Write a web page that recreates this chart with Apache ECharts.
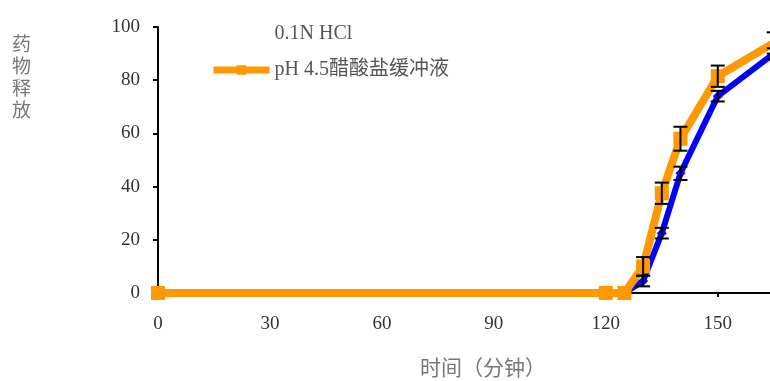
<!DOCTYPE html>
<html><head><meta charset="utf-8">
<script src="https://cdn.jsdelivr.net/npm/echarts@6/dist/echarts.min.js"></script>
<style>html,body{margin:0;padding:0;background:#fff}#c{width:770px;height:381px}</style>
</head><body><div id="c"></div>
<script>
const times = [0, 120, 125, 130, 135, 140, 150, 165];
const hcl = [0, 0, 0, 4.5, 22.5, 45, 74, 90];
const hclErr = [0, 0, 0, 2, 2, 2.5, 2, 2];
const acetate = [0, 0, 0, 10, 37.5, 58, 81.5, 94];
const acetateErr = [0, 0, 0, 3.5, 4, 4.5, 4, 4];
const seriesNames = ['0.1N HCl', 'pH 4.5醋酸盐缓冲液'];
const xTicks = [0, 30, 60, 90, 120, 150];
const yTicks = [0, 20, 40, 60, 80, 100];

const FONT = '"Liberation Serif", "Noto Sans CJK SC", serif';
const pairs = (ys) => times.map((t, i) => [t, ys[i]]);
const errData = (ys, es) => times.map((t, i) => [t, ys[i], es[i]]).filter(d => d[2] > 0);

function errRender(params, api) {
  const x = api.value(0), y = api.value(1), e = api.value(2);
  const top = api.coord([x, y + e]);
  const bot = api.coord([x, y - e]);
  const w = 7;
  const st = {stroke: '#000', lineWidth: 2};
  return {type: 'group', children: [
    {type: 'line', shape: {x1: top[0], y1: top[1], x2: bot[0], y2: bot[1]}, style: st},
    {type: 'line', shape: {x1: top[0] - w, y1: top[1], x2: top[0] + w, y2: top[1]}, style: st},
    {type: 'line', shape: {x1: bot[0] - w, y1: bot[1], x2: bot[0] + w, y2: bot[1]}, style: st}
  ]};
}

const chart = echarts.init(document.getElementById('c'));
chart.setOption({
  animation: false,
  textStyle: {fontFamily: FONT},
  grid: {left: 158, top: 27, right: 0, bottom: 88, containLabel: false},
  legend: {
    orient: 'vertical', left: 210, top: 20, padding: 0, itemWidth: 56, itemHeight: 12, itemGap: 8,
    textStyle: {fontFamily: FONT, fontSize: 20, lineHeight: 28, color: '#555'},
    data: [
      {name: seriesNames[0], itemStyle: {opacity: 0}, lineStyle: {opacity: 0}},
      {name: seriesNames[1], lineStyle: {width: 7}}
    ]
  },
  xAxis: {
    type: 'value', min: 0, max: 164, interval: 30,
    axisLine: {lineStyle: {color: '#000', width: 2}},
    axisTick: {show: true, length: 4, lineStyle: {color: '#000', width: 2}},
    splitLine: {show: false},
    axisLabel: {margin: 22, fontSize: 19, color: '#333', fontFamily: FONT,
      showMaxLabel: false,
      formatter: v => xTicks.includes(v) ? String(v) : ''}
  },
  yAxis: {
    type: 'value', min: 0, max: 100, interval: 20,
    axisLine: {show: true, lineStyle: {color: '#000', width: 2}},
    axisTick: {show: true, length: 5, lineStyle: {color: '#000', width: 2}},
    splitLine: {show: false},
    axisLabel: {margin: 18, fontSize: 19, color: '#333', fontFamily: FONT,
      formatter: v => yTicks.includes(v) ? String(v) : ''}
  },
  graphic: [
    {type: 'text', left: 12, top: 35, style: {text: '药\n物\n释\n放', fontSize: 19, lineHeight: 22, fill: '#777', fontFamily: FONT}},
    {type: 'text', left: 420, top: 359, style: {text: '时间（分钟）', fontSize: 21, fill: '#777', fontFamily: FONT}}
  ],
  series: [
    {name: seriesNames[0], type: 'line', data: pairs(hcl), z: 2,
      lineStyle: {color: '#0000FF', width: 6}, itemStyle: {color: '#0000FF'},
      symbol: 'diamond', symbolSize: 10, showAllSymbol: true},
    {name: seriesNames[1], type: 'line', data: pairs(acetate), z: 3,
      lineStyle: {color: '#FF9900', width: 8}, itemStyle: {color: '#FF9900'},
      symbol: 'rect', symbolSize: 14, showAllSymbol: true},
    {type: 'custom', data: errData(hcl, hclErr), renderItem: errRender, z: 4, clip: false},
    {type: 'custom', data: errData(acetate, acetateErr), renderItem: errRender, z: 4, clip: false}
  ]
});
</script></body></html>
